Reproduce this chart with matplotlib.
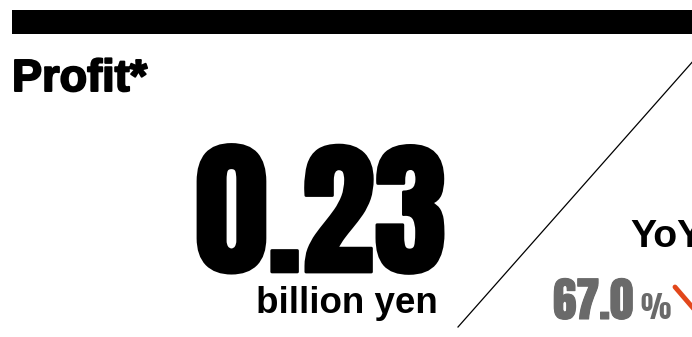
import matplotlib
matplotlib.use('Agg')
import matplotlib.pyplot as plt
import matplotlib.patheffects as pe
from matplotlib import font_manager as fm
from matplotlib.patches import Rectangle
from matplotlib.textpath import TextPath

# figures
title = 'Profit*'
profit = 0.23
unit = 'billion yen'
yoy_label = 'YoY'
yoy = 67.0

DPI = 100
avail = {f.name for f in fm.fontManager.ttflist}


def fam(*names):
    return [n for n in names if n in avail] + ['DejaVu Sans']


num_font = fam('Anton', 'Oswald', 'Bebas Neue')
txt_font = fam('Liberation Sans', 'Arimo')


def size_for(s, px, family, weight='normal'):
    # point size giving an ink height of px pixels
    prop = fm.FontProperties(family=family, weight=weight)
    h = TextPath((0, 0), s, size=100, prop=prop).get_extents().height
    return px * 72 / DPI * 100 / h


fig = plt.figure(figsize=(6.92, 3.37), dpi=DPI)
ax = fig.add_axes([0, 0, 1, 1])
ax.set_xlim(0, 692)
ax.set_ylim(337, 0)
ax.axis('off')

# header band
ax.add_patch(Rectangle((12, 9.5), 690, 24, color='black', lw=0))

ax.text(12, 91, title, ha='left', va='baseline', family=txt_font, weight='bold',
        fontsize=size_for('P', 31, txt_font, 'bold'),
        path_effects=[pe.withStroke(linewidth=1.4, foreground='black')])

# main value
ax.text(321, 272, f'{profit:.2f}', ha='center', va='baseline', family=num_font,
        fontsize=size_for(f'{profit:.2f}', 129, num_font), color='black',
        path_effects=[pe.withStroke(linewidth=2, foreground='black')])
ax.text(347, 313, unit, ha='center', va='baseline', family=txt_font, weight='bold',
        fontsize=size_for('bl', 27, txt_font, 'bold'), color='black')

# divider
ax.plot([458, 700], [327, 327 - 242 * 1.131], color='black', lw=0.9)

# year on year
ax.text(630, 247, yoy_label, ha='left', va='baseline', family=txt_font, weight='bold',
        fontsize=size_for('Y', 27, txt_font, 'bold'), color='black')
ax.text(553, 319, f'{yoy:.1f}', ha='left', va='baseline', family=num_font,
        fontsize=size_for(f'{yoy:.1f}', 41, num_font), color='#6a6a6a',
        path_effects=[pe.withStroke(linewidth=0.8, foreground='#6a6a6a')])
ax.text(640, 319, '%', ha='left', va='baseline', family=num_font,
        fontsize=size_for('%', 25, num_font), color='#6a6a6a')
ax.annotate('', xy=(712, 330), xytext=(675, 287), annotation_clip=False,
            arrowprops=dict(arrowstyle='-|>', lw=3.5, color='#e2471b',
                            mutation_scale=22, shrinkA=0, shrinkB=0))

fig.savefig('out.png', dpi=DPI)
